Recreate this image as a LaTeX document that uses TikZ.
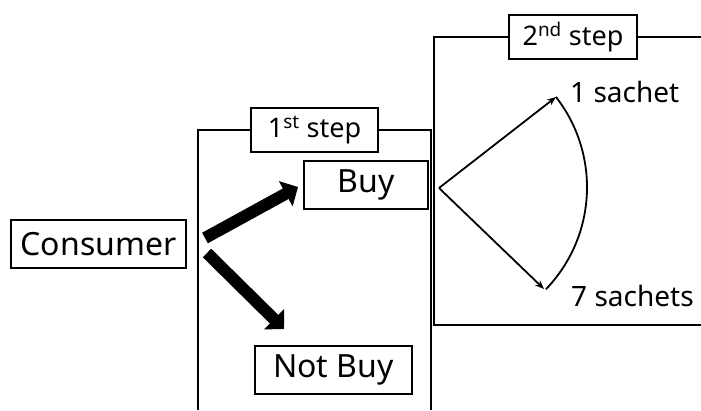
\documentclass[tikz,border=0pt]{standalone}
\usepackage{fontspec}
\setmainfont{Noto Sans}
\usetikzlibrary{arrows.meta}
\begin{document}
\begin{tikzpicture}[x=1pt,y=-1pt,
 box/.style={draw, line width=1.8pt, fill=white, inner sep=0pt, font=\fontsize{32}{38}\selectfont},
 lbl/.style={draw, line width=1.8pt, fill=white, inner sep=0pt, minimum height=44pt, font=\fontsize{27}{32}\selectfont},
 framestyle/.style={line width=1.8pt},
 bigarrow/.style={line width=12pt, -{Triangle[width=28pt,length=14pt]}},
 thinarrow/.style={line width=1.8pt, -{Stealth[length=9pt,width=7pt]}},
 txt/.style={inner sep=0pt, anchor=base west, font=\fontsize{28}{34}\selectfont}]
\useasboundingbox (0,0) rectangle (701,410);
% boxes
\node[box, minimum width=175pt, minimum height=48pt] (cons) at (98.5,244) {Consumer};
\node[box, minimum width=124pt, minimum height=48pt] (buy) at (366,185) {Buy};
\node[box, minimum width=157pt, minimum height=48pt] (notbuy) at (333.5,370) {Not Buy};
% step labels
\node[lbl, minimum width=127pt] (s1) at (314.5,130) {1\textsuperscript{st} step};
\node[lbl, minimum width=128pt] (s2) at (573,37) {2\textsuperscript{nd} step};
% frames
\draw[framestyle] (s1.west) -| (198,410);
\draw[framestyle] (s1.east) -| (431,410);
\draw[framestyle] (s2.west) -| (434,325) -- (701,325);
\draw[framestyle] (s2.east) -- (701,37);
% outcome texts
\node[txt] (one) at (570,102) {1 sachet};
\node[txt] (seven) at (571,306) {7 sachets};
% thick arrows
\coordinate (a1s) at (205,238);
\coordinate (a1e) at (298,187);
\coordinate (a2s) at (207,253);
\coordinate (a2e) at (284,329);
\draw[bigarrow] (a1s) -- (a1e);
\draw[bigarrow] (a2s) -- (a2e);
% thin arrows
\coordinate (o) at (439,188);
\coordinate (t1) at (556,97);
\coordinate (t2) at (544,289);
\draw[thinarrow] (o) -- (t1);
\draw[thinarrow] (o) -- (t2);
\draw[line width=1.8pt] (t1) arc[start angle=37.9, end angle=-43.9, radius=147pt];
\end{tikzpicture}
\end{document}
